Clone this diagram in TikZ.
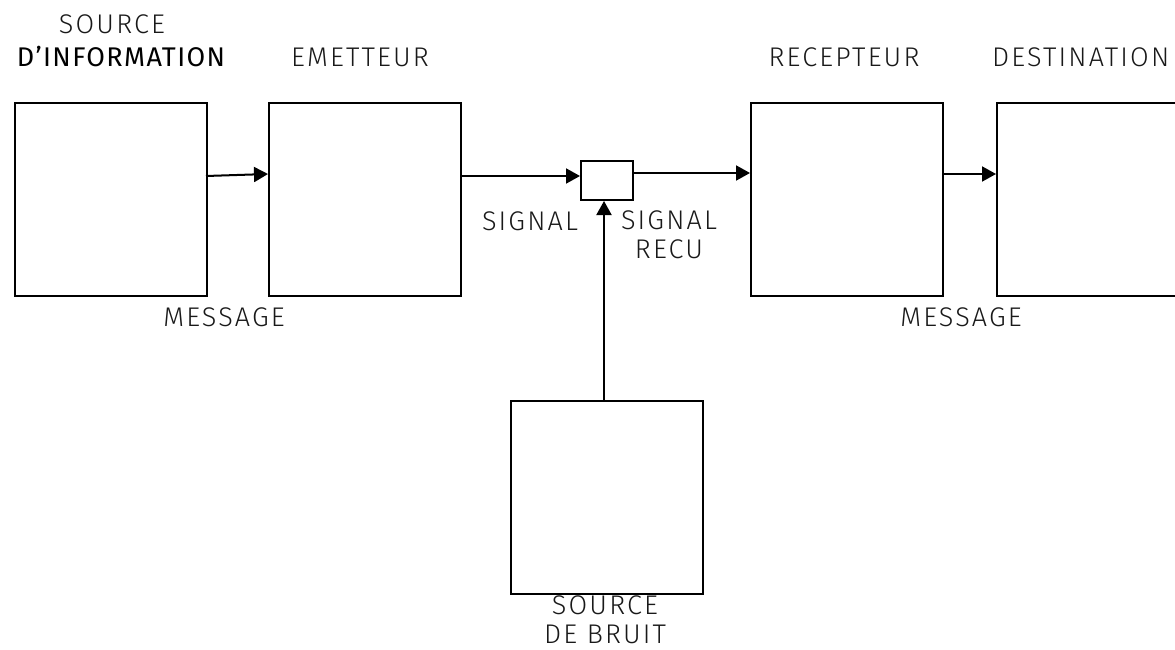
\documentclass[tikz,border=0pt]{standalone}
\usepackage{fontspec}
\setmainfont{Fira Sans Light}[LetterSpace=8]
\newfontfamily\boldish{Fira Sans}[LetterSpace=5]
\usetikzlibrary{arrows.meta}
\begin{document}
\begin{tikzpicture}[x=1pt,y=-1pt,
  blk/.style={draw=black,line width=2pt,minimum width=192pt,minimum height=193pt,inner sep=0pt,anchor=north west},
  small/.style={draw=black,line width=2pt,minimum width=52pt,minimum height=39pt,inner sep=0pt,anchor=north west},
  lbl/.style={font=\fontsize{27}{29}\selectfont,text=black!90,align=center,inner sep=0pt},
  conn/.style={line width=2pt,-{Triangle[length=14pt,width=15pt]}}]
\useasboundingbox (0,0) rectangle (1175,650);
% boxes
\node[blk] (src) at (14,102) {};
\node[blk] (emt) at (268,102) {};
\node[small] (mix) at (580,160) {};
\node[blk] (rec) at (750,102) {};
\node[blk] (dst) at (996,102) {};
\node[blk] (nse) at (510,400) {};
% labels
\node[lbl] (tsrc1) at (112,24) {SOURCE};
\node[lbl,font=\fontsize{27}{29}\boldish,text=black] (tsrc2) at (121,56) {D’INFORMATION};
\node[lbl] (temt) at (360,57) {EMETTEUR};
\node[lbl] (trec) at (844,57) {RECEPTEUR};
\node[lbl,anchor=west] (tdst) at (992,57) {DESTINATION};
\node[lbl] (tmsg1) at (224,317) {MESSAGE};
\node[lbl] (tmsg2) at (961,317) {MESSAGE};
\node[lbl] (tsig) at (530,221) {SIGNAL};
\node[lbl] (tsigr) at (669,235) {SIGNAL\\RECU};
\node[lbl] (tnse) at (605,620) {SOURCE\\DE BRUIT};
% connectors
\coordinate (a1) at (206,176);
\coordinate (a2) at (268,174);
\draw[conn] (a1) -- (a2);
\draw[conn] (emt.east |- 0,176) -- (mix.west |- 0,176);
\draw[conn] (mix.east |- 0,173) -- (rec.west |- 0,173);
\draw[conn] (rec.east |- 0,174) -- (dst.west |- 0,174);
\draw[conn] (nse.north -| 604,0) -- (mix.south -| 604,0);
\end{tikzpicture}
\end{document}
